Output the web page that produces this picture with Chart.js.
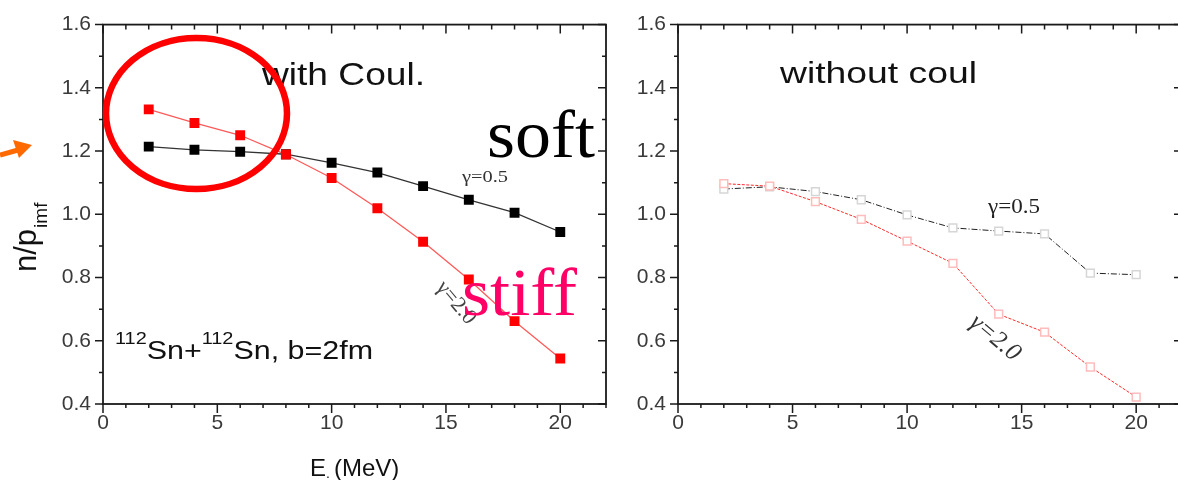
<!DOCTYPE html>
<html lang="en">
<head>
<meta charset="UTF-8">
<title>n/p ratio vs E</title>
<script src="https://cdn.jsdelivr.net/npm/chart.js"></script>
<style>
  html, body { margin: 0; padding: 0; background: #fff; }
  #wrap { position: relative; width: 1178px; height: 480px; overflow: hidden; }
  .panel { position: absolute; top: 0; height: 480px; }
  #left { left: 0; width: 620px; }
  #right { left: 600px; width: 590px; }
</style>
</head>
<body>
<div id="wrap">
  <div class="panel" id="left"><canvas id="coulChart" width="620" height="480"></canvas></div>
  <div class="panel" id="right"><canvas id="noCoulChart" width="590" height="480"></canvas></div>
</div>

<script>
// data
const energy = [2, 4, 6, 8, 10, 12, 14, 16, 18, 20];
const coulSoft = [1.214, 1.204, 1.198, 1.19, 1.163, 1.132, 1.089, 1.046, 1.005, 0.944];
const coulStiff = [1.332, 1.289, 1.25, 1.189, 1.115, 1.019, 0.913, 0.794, 0.662, 0.544];
const noCoulSoft = [1.080, 1.087, 1.072, 1.046, 0.998, 0.957, 0.947, 0.938, 0.814, 0.809];
const noCoulStiff = [1.097, 1.089, 1.040, 0.984, 0.915, 0.845, 0.684, 0.627, 0.517, 0.422];
const xTicks = [0, 5, 10, 15, 20];
const yTicks = [0.4, 0.6, 0.8, 1.0, 1.2, 1.4, 1.6];

const SANS = "'Liberation Sans', Arial, sans-serif";
const SERIF = "'Liberation Serif', 'Times New Roman', serif";

const pts = vals => energy.map((e, i) => ({ x: e, y: vals[i] }));

// text squeezed/stretched to the width it has in the picture
function stretchText(ctx, text, left, base, width, font, color) {
  ctx.save();
  ctx.font = font;
  ctx.fillStyle = color;
  ctx.textAlign = 'left';
  ctx.textBaseline = 'alphabetic';
  const w = ctx.measureText(text).width;
  ctx.translate(left, base);
  ctx.scale(width / w, 1);
  ctx.fillText(text, 0, 0);
  ctx.restore();
}

function rotatedText(ctx, text, cx, cy, angle, font, color) {
  ctx.save();
  ctx.font = font;
  ctx.fillStyle = color;
  ctx.textAlign = 'center';
  ctx.textBaseline = 'middle';
  ctx.translate(cx, cy);
  ctx.rotate(angle * Math.PI / 180);
  ctx.fillText(text, 0, 0);
  ctx.restore();
}

// box with ticks like the Origin plot
function drawFrame(chart) {
  const { ctx, chartArea: a, scales: { x, y } } = chart;
  ctx.save();
  ctx.strokeStyle = '#1a1a1a';
  ctx.lineWidth = 1.8;
  ctx.strokeRect(a.left, a.top, a.right - a.left, a.bottom - a.top);
  ctx.lineWidth = 1.5;
  ctx.beginPath();
  for (let v = 0; v <= 22; v++) {
    const px = x.getPixelForValue(v);
    const major = v % 5 === 0;
    ctx.moveTo(px, a.bottom); ctx.lineTo(px, a.bottom + (major ? 9 : 4));
    ctx.moveTo(px, a.top); ctx.lineTo(px, a.top + (major ? 9 : 5));
  }
  for (let i = 0; i <= 12; i++) {
    const py = y.getPixelForValue(0.4 + i * 0.1);
    const len = i % 2 === 0 ? 8 : 4;
    ctx.moveTo(a.left, py); ctx.lineTo(a.left - len, py);
    ctx.moveTo(a.right, py); ctx.lineTo(a.right - len, py);
  }
  ctx.stroke();
  ctx.restore();
}

function makeScales(yWidth) {
  const tickFont = { family: SANS, size: 21 };
  return {
    x: {
      type: 'linear', min: 0, max: 22,
      afterBuildTicks: s => { s.ticks = xTicks.map(v => ({ value: v })); },
      afterFit: s => { s.height = 76; },
      ticks: { font: tickFont, color: '#3a3a3a', padding: 7, maxRotation: 0, autoSkip: false },
      grid: { display: false, drawTicks: false },
      border: { display: false }
    },
    y: {
      type: 'linear', min: 0.4, max: 1.6,
      afterBuildTicks: s => { s.ticks = yTicks.map(v => ({ value: v })); },
      afterFit: s => { s.width = yWidth; },
      ticks: { font: tickFont, color: '#3a3a3a', padding: 12, callback: v => v.toFixed(1) },
      grid: { display: false, drawTicks: false },
      border: { display: false }
    }
  };
}

const baseOptions = (yWidth, padRight) => ({
  responsive: false,
  animation: false,
  layout: { padding: { left: 0, top: 16, right: padRight, bottom: 0 }, autoPadding: false },
  plugins: { legend: { display: false }, tooltip: { enabled: false } },
  scales: makeScales(yWidth)
});

// left panel: with Coulomb
new Chart(document.getElementById('coulChart'), {
  type: 'line',
  data: {
    datasets: [{
      label: 'γ=2.0',
      data: pts(coulStiff),
      borderColor: '#ff5a5a',
      borderWidth: 1.3,
      pointStyle: 'rect',
      pointRadius: 7,
      pointBackgroundColor: '#ff0000',
      pointBorderWidth: 0
    }, {
      label: 'γ=0.5',
      data: pts(coulSoft),
      borderColor: '#333',
      borderWidth: 1.3,
      pointStyle: 'rect',
      pointRadius: 7,
      pointBackgroundColor: '#000',
      pointBorderWidth: 0
    }]
  },
  options: baseOptions(103, 14),
  plugins: [{
    id: 'leftDeco',
    afterDraw(chart) {
      const ctx = chart.ctx;
      drawFrame(chart);
      stretchText(ctx, 'with Coul.', 262, 85, 163, '32px ' + SANS, '#111');
      stretchText(ctx, 'γ=0.5', 462, 182, 46, '17px ' + SERIF, '#333');
      rotatedText(ctx, 'γ=2.0', 456, 303, 50, '22px ' + SERIF, '#444');
      stretchText(ctx, 'soft', 487, 157, 108, '68px ' + SERIF, '#000');
      stretchText(ctx, 'stiff', 462, 315, 115, '68px ' + SERIF, '#ff0066');

      // 112Sn+112Sn, b=2fm
      const runs = [['112', true], ['Sn+', false], ['112', true], ['Sn, b=2fm', false]];
      ctx.save();
      let total = 0;
      runs.forEach(([t, sup]) => {
        ctx.font = (sup ? '17px ' : '26px ') + SANS;
        total += ctx.measureText(t).width;
      });
      ctx.translate(115, 359);
      ctx.scale(258 / total, 1);
      ctx.fillStyle = '#111';
      let xx = 0;
      runs.forEach(([t, sup]) => {
        ctx.font = (sup ? '17px ' : '26px ') + SANS;
        ctx.fillText(t, xx, sup ? -15 : 0);
        xx += ctx.measureText(t).width;
      });
      ctx.restore();

      // y title n/p_imf
      ctx.save();
      ctx.translate(36, 272);
      ctx.rotate(-Math.PI / 2);
      ctx.fillStyle = '#111';
      ctx.font = '31px ' + SANS;
      ctx.fillText('n/p', 0, 0);
      const w = ctx.measureText('n/p').width;
      ctx.font = '19px ' + SANS;
      ctx.fillText('imf', w + 1, 11);
      ctx.restore();

      // x title
      ctx.save();
      ctx.fillStyle = '#111';
      ctx.font = '24px ' + SANS;
      ctx.fillText('E', 310, 476);
      ctx.font = '14px ' + SANS;
      ctx.fillText('.', 326, 478);
      ctx.font = '24px ' + SANS;
      ctx.fillText('(MeV)', 334, 476);
      ctx.restore();

      // red circle
      ctx.save();
      ctx.strokeStyle = '#ff0000';
      ctx.lineWidth = 6.5;
      ctx.beginPath();
      ctx.ellipse(196.5, 113.5, 90.5, 75.5, 0, 0, Math.PI * 2);
      ctx.stroke();

      // orange arrow
      ctx.fillStyle = '#ff6a00';
      ctx.strokeStyle = '#ff6a00';
      ctx.lineWidth = 5;
      ctx.beginPath();
      ctx.moveTo(0, 155);
      ctx.lineTo(18, 150);
      ctx.stroke();
      ctx.beginPath();
      ctx.moveTo(32, 145);
      ctx.lineTo(13, 140);
      ctx.lineTo(19, 158);
      ctx.closePath();
      ctx.fill();
      ctx.restore();
    }
  }]
});

// right panel: without Coulomb
new Chart(document.getElementById('noCoulChart'), {
  type: 'line',
  data: {
    datasets: [{
      label: 'γ=2.0',
      data: pts(noCoulStiff),
      borderColor: '#ff2a2a',
      borderWidth: 1,
      borderDash: [3, 1.5],
      pointStyle: 'rect',
      pointRadius: 5.5,
      pointBackgroundColor: '#fff',
      pointBorderColor: '#ffbcbc',
      pointBorderWidth: 1.5
    }, {
      label: 'γ=0.5',
      data: pts(noCoulSoft),
      borderColor: '#222',
      borderWidth: 1,
      borderDash: [6, 2, 1, 2],
      pointStyle: 'rect',
      pointRadius: 5.5,
      pointBackgroundColor: '#fff',
      pointBorderColor: '#d6d6d6',
      pointBorderWidth: 1.5
    }]
  },
  options: baseOptions(78, 8),
  plugins: [{
    id: 'rightDeco',
    afterDraw(chart) {
      const ctx = chart.ctx;
      drawFrame(chart);
      stretchText(ctx, 'without coul', 180, 83, 197, '30px ' + SANS, '#111');
      stretchText(ctx, 'γ=0.5', 388, 213, 52, '21px ' + SERIF, '#222');
      rotatedText(ctx, 'γ=2.0', 395, 338, 40, 'italic 25px ' + SERIF, '#333');
    }
  }]
});
</script>
</body>
</html>
